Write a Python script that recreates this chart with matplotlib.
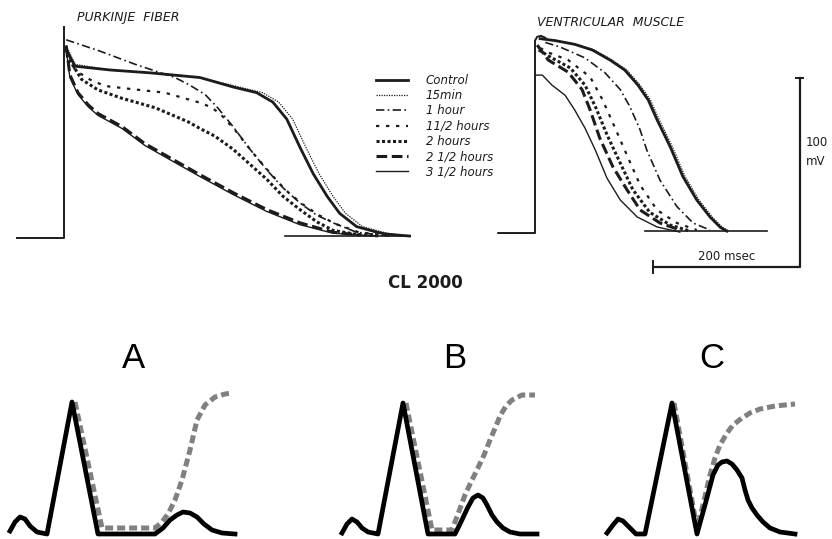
import matplotlib.pyplot as plt

W, H = 832, 539
INK = '#1c1c1c'

# ---- Purkinje fiber: time (ms) vs membrane potential (mV)
pk_base_t = [-64, 0, 0]
pk_base_v = [-90, -90, 22]
pk_ctrl_t = [3, 15, 63, 117, 185, 230, 262, 284, 303, 321, 339, 358, 375, 398, 426, 439, 470]
pk_ctrl_v = [10, 1, -1, -2.5, -5, -10, -13, -18, -27, -42, -56, -68, -77, -84, -87, -88, -89]
pk_15m_t = [3, 15, 63, 117, 185, 238, 270, 292, 311, 329, 347, 366, 383, 406, 434, 447, 470]
pk_15m_v = [12, 2, -1, -2.5, -5, -10, -13, -18, -27, -42, -56, -68, -77, -84, -87, -88, -89]
pk_1h_t = [3, 49, 97, 124, 151, 171, 192, 209, 230, 253, 276, 298, 321, 344, 366, 398, 443]
pk_1h_v = [15, 9, 2, -1.5, -5, -9, -14, -21, -31, -43, -54, -63.5, -71.5, -78, -82, -87, -89]
pk_90m_t = [3, 15, 35, 56, 101, 137, 182, 199, 212, 233, 256, 279, 301, 324, 347, 369, 401, 446]
pk_90m_v = [10.7, -1, -6, -9.5, -11.5, -13, -18, -20.5, -24, -33, -44.5, -55, -64.5, -72, -78, -82.5, -87, -89]
pk_2h_t = [3, 5, 24, 46, 79, 124, 169, 185, 205, 230, 253, 276, 298, 321, 344, 366, 396, 430]
pk_2h_v = [10, 6, -6, -11.5, -16, -21, -28.5, -32, -36, -43, -51, -59, -68, -75, -81.5, -86, -88, -89]
pk_150m_t = [3, 8, 19, 33, 46, 79, 110, 144, 185, 230, 276, 321, 366, 403]
pk_150m_v = [12, -3.5, -13, -19.5, -24, -31, -40, -47.5, -56.5, -66, -75, -82, -87, -88.5]
pk_210m_t = [3, 8, 19, 33, 46, 79, 110, 144, 185, 230, 276, 321, 366, 423]
pk_210m_v = [10.5, -5, -14, -20.5, -25, -32, -41, -48.5, -57.5, -67, -76, -83, -87.5, -89]

# ---- Ventricular muscle
vm_base_t = [-50, 0, 0, 3, 8, 14]
vm_base_v = [-90, -90, 12, 14, 14.5, 13.5]
vm_tail_t = [150, 316]
vm_tail_v = [-89, -89]
vm_ctrl_t = [7, 27, 54, 78, 102, 122, 140, 154, 166, 184, 201, 220, 238, 252, 261]
vm_ctrl_v = [13, 12, 10, 7, 1.7, -3.6, -11.6, -19.5, -30, -44.4, -60, -72.5, -81.5, -87, -89]
vm_15m_t = [10, 30, 57, 81, 105, 125, 143, 157, 169, 187, 204, 223, 241, 255, 264]
vm_15m_v = [13, 12, 10, 7, 1.7, -3.6, -11.6, -19.5, -30, -44.4, -60, -72.5, -81.5, -87, -89]
vm_1h_t = [14, 34, 68, 95, 116, 129, 143, 152, 170, 193, 215, 238]
vm_1h_v = [11, 8.6, 2.8, -5, -14, -23, -35.4, -46, -62, -76, -84.7, -88.4]
vm_90m_t = [7, 20, 45, 75, 92, 109, 125, 143, 166, 193, 220]
vm_90m_v = [8, 5.4, 1.7, -7.3, -19.5, -34.4, -48.7, -64.6, -77.8, -84.7, -88.4]
vm_2h_t = [5, 23, 48, 68, 83, 98, 116, 133, 156, 184, 211]
vm_2h_v = [7, 2.8, -2.5, -11.6, -23.8, -38, -53, -67, -79, -85.8, -89]
vm_150m_t = [3, 18, 45, 64, 75, 88, 106, 125, 143, 170, 197]
vm_150m_v = [9.6, 1.7, -4.7, -14, -24.8, -39.6, -55, -67, -77.8, -84.7, -88.4]
vm_210m_t = [0, 10, 23, 41, 54, 68, 82, 98, 116, 139, 166, 197]
vm_210m_v = [-6.3, -6.3, -11.6, -17, -24.8, -34.4, -46, -61, -72.5, -81.5, -86.8, -89.5]

legend_labels = ['Control', '15min', '1 hour', '11/2 hours', '2 hours',
                 '2 1/2 hours', '3 1/2 hours']

# ---- schematic panels A, B, C (arbitrary units)
a_qrs_x = [10, 15, 20, 25, 30, 37, 47, 72, 98, 155, 163, 170, 177, 183, 190, 197, 204, 212, 222, 235]
a_qrs_y = [3, 12, 17, 15, 8, 2, 0, 132, 0, 0, 6, 14, 19, 22, 21, 17, 10, 4, 1, 0]
a_ap_x = [75, 102, 155, 162, 168, 175, 182, 190, 197, 205, 215, 225, 232]
a_ap_y = [132, 6, 6, 12, 20, 34, 54, 84, 114, 129, 137, 140, 141]

b_qrs_x = [62, 67, 72, 77, 82, 88, 98, 123, 148, 175, 180, 188, 193, 198, 203, 207, 212, 217, 223, 230, 240, 257]
b_qrs_y = [1, 10, 15, 12, 6, 2, 0, 131, 0, 0, 10, 27, 36, 39, 36, 29, 19, 12, 6, 2, 0, 0]
b_ap_x = [126, 152, 172, 178, 185, 191, 197, 204, 210, 216, 220, 226, 232, 242, 255]
b_ap_y = [131, 4, 4, 20, 39, 52, 64, 79, 94, 108, 118, 128, 134, 139, 139]

c_qrs_x = [47, 53, 58, 63, 70, 76, 85, 112, 137, 145, 153, 158, 162, 167, 172, 177, 182, 185, 188, 192, 197, 203, 210, 220, 235]
c_qrs_y = [1, 9, 15, 13, 6, 0, 0, 131, 0, 29, 59, 69, 72, 73, 70, 64, 56, 44, 34, 26, 19, 12, 6, 2, 0]
c_ap_x = [114, 137, 143, 150, 155, 160, 167, 173, 182, 190, 200, 215, 235]
c_ap_y = [131, 6, 29, 59, 76, 89, 101, 109, 116, 121, 125, 128, 130]


def px_axes(fig, x0, y0, x1, y1):
    ax = fig.add_axes([x0 / W, 1 - y1 / H, (x1 - x0) / W, (y1 - y0) / H])
    ax.axis('off')
    return ax


fig = plt.figure(figsize=(W / 100, H / 100), dpi=100)

styles = [
    dict(ls='-', lw=2.0),
    dict(ls=(0, (1, 1)), lw=0.9),
    dict(ls=(0, (5, 2, 1, 2)), lw=1.2),
    dict(ls=(0, (1.5, 3)), lw=1.6),
    dict(ls=(0, (1, 0.8)), lw=2.2),
    dict(ls=(0, (3.5, 1.5)), lw=2.2),
    dict(ls='-', lw=1.0),
]

# Purkinje fiber
ax1 = px_axes(fig, 10, 20, 420, 250)
ax1.set_xlim(-73.4, 484.2)
ax1.set_ylim(-96.4, 25.5)
ax1.plot(pk_base_t, pk_base_v, color=INK, lw=1.4)
pk = [(pk_ctrl_t, pk_ctrl_v), (pk_15m_t, pk_15m_v), (pk_1h_t, pk_1h_v),
      (pk_90m_t, pk_90m_v), (pk_2h_t, pk_2h_v), (pk_150m_t, pk_150m_v),
      (pk_210m_t, pk_210m_v)]
handles = []
for (t, v), st, lab in zip(pk, styles, legend_labels):
    h, = ax1.plot(t, v, color=INK, label=lab, **st)
    handles.append(h)
ax1.plot([300, 470], [-89, -89], color=INK, lw=1.2)

fig.text(77 / W, 1 - 18 / H, 'PURKINJE  FIBER', fontsize=9, style='italic',
         color=INK, va='center', ha='left')

fig.legend(handles=handles, labels=legend_labels, loc='upper left',
           bbox_to_anchor=(376 / W, 1 - 74 / H), frameon=False,
           prop=dict(size=8.5, style='italic'), handlelength=2.7,
           handletextpad=1.5, labelspacing=0.19, borderpad=0,
           borderaxespad=0, labelcolor=INK)

# Ventricular muscle
ax2 = px_axes(fig, 480, 20, 832, 280)
ax2.set_xlim(-74.8, 403.9)
ax2.set_ylim(-114.9, 22.9)
ax2.plot(vm_base_t, vm_base_v, color=INK, lw=1.4)
ax2.plot(vm_tail_t, vm_tail_v, color=INK, lw=1.2)
vm = [(vm_ctrl_t, vm_ctrl_v), (vm_15m_t, vm_15m_v), (vm_1h_t, vm_1h_v),
      (vm_90m_t, vm_90m_v), (vm_2h_t, vm_2h_v), (vm_150m_t, vm_150m_v),
      (vm_210m_t, vm_210m_v)]
for (t, v), st in zip(vm, styles):
    ax2.plot(t, v, color=INK, **st)

# scale bars: 200 msec, 100 mV
ax2.plot([160, 360, 360], [-108, -108, -8], color=INK, lw=1.6)
ax2.plot([160, 160], [-111, -105], color=INK, lw=1.4)
ax2.plot([355, 365], [-8, -8], color=INK, lw=1.4)
ax2.text(260, -102.5, '200 msec', fontsize=8.5, ha='center', va='center', color=INK)
ax2.text(368, -47, '100\nmV', fontsize=8.5, ha='left', va='center', color=INK,
         linespacing=1.6)

fig.text(537 / W, 1 - 22 / H, 'VENTRICULAR  MUSCLE', fontsize=9, style='italic',
         color=INK, va='center', ha='left')
fig.text(425 / W, 1 - 283 / H, 'CL 2000', fontsize=12, fontweight='bold',
         color=INK, va='center', ha='center')

# Schematic panels
panels = [('A', 0, 280, a_qrs_x, a_qrs_y, a_ap_x, a_ap_y, 133),
          ('B', 280, 560, b_qrs_x, b_qrs_y, b_ap_x, b_ap_y, 455),
          ('C', 560, 832, c_qrs_x, c_qrs_y, c_ap_x, c_ap_y, 712)]
for letter, x0, x1, qx, qy, apx, apy, lx in panels:
    ax = px_axes(fig, x0, 380, x1, 539)
    ax.set_xlim(0, x1 - x0)
    ax.set_ylim(-5, 154)
    ax.plot(apx, apy, color='#808080', lw=3.6, ls=(0, (1.6, 0.8)),
            solid_joinstyle='round')
    ax.plot(qx, qy, color='black', lw=3.4, solid_joinstyle='round')
    fig.text(lx / W, 1 - 358 / H, letter, fontsize=25, family='Liberation Sans',
             ha='center', va='center')

fig.savefig('out.png', dpi=100)
